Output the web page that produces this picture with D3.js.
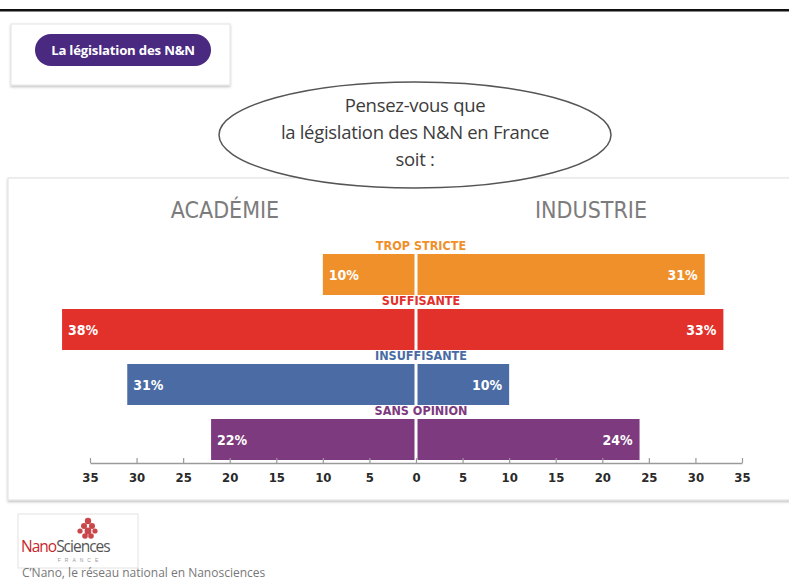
<!DOCTYPE html>
<html><head><meta charset="utf-8">
<script src="https://cdn.jsdelivr.net/npm/d3@7/dist/d3.min.js"></script>
<style>
html,body{margin:0;padding:0;background:#fff;}
svg{display:block;}
</style></head>
<body>
<svg id="chart" width="789" height="581"></svg>
<script>
const categories = ["TROP STRICTE", "SUFFISANTE", "INSUFFISANTE", "SANS OPINION"];
const academie = [10, 38, 31, 22];
const industrie = [31, 33, 10, 24];
const colors = ["#F0902A", "#E2302B", "#4A6BA4", "#7D3A7E"];
const tickValues = [-35,-30,-25,-20,-15,-10,-5,0,5,10,15,20,25,30,35];
const groupHeaders = ["ACADÉMIE", "INDUSTRIE"];
const questionLines = ["Pensez-vous que", "la législation des N&N en France", "soit :"];

const svg = d3.select("#chart");
const cond = "'Liberation Sans Narrow','DejaVu Sans Condensed','Open Sans',sans-serif";
const calib = "'Open Sans','Noto Sans',sans-serif";

const defs = svg.append("defs");
const f = defs.append("filter").attr("id","sh").attr("x","-5%").attr("y","-5%").attr("width","110%").attr("height","115%");
f.append("feDropShadow").attr("dx",0).attr("dy",1.5).attr("stdDeviation",1.2).attr("flood-color","#000").attr("flood-opacity",0.25);

// top rule
svg.append("rect").attr("x",0).attr("y",9).attr("width",789).attr("height",2.5).attr("fill","#111");

// badge box
svg.append("rect").attr("x",11).attr("y",24).attr("width",219).attr("height",61).attr("fill","#fff").attr("stroke","#e4e4e4").attr("filter","url(#sh)");
svg.append("rect").attr("x",35).attr("y",34).attr("width",176).attr("height",32).attr("rx",16).attr("fill","#4A2A80");
svg.append("text").attr("x",123).attr("y",55).attr("text-anchor","middle").attr("fill","#fff")
  .style("font-family",calib).style("font-size","13.2px").style("font-weight","700").style("letter-spacing","-0.2px").text("La législation des N&N");

// chart panel
svg.append("rect").attr("x",8).attr("y",178).attr("width",800).attr("height",322).attr("fill","#fff").attr("stroke","#dedede").attr("filter","url(#sh)");

// ellipse
svg.append("ellipse").attr("cx",415).attr("cy",135).attr("rx",196).attr("ry",53).attr("fill","#fff").attr("stroke","#555").attr("stroke-width",1.5);
svg.append("g").selectAll("text").data(questionLines).join("text")
  .attr("x",415).attr("y",(d,i)=>112+i*27).attr("text-anchor","middle").attr("fill","#3c3c3c")
  .style("font-family",calib).style("font-size","18.5px").style("letter-spacing","-0.3px").text(d=>d);

// headers
svg.append("g").selectAll("text").data(groupHeaders).join("text")
  .attr("x",(d,i)=> i===0 ? 225 : 591).attr("y",218).attr("text-anchor","middle").attr("fill","#7c7c7c")
  .style("font-family",cond).style("font-size","23px").text(d=>d);

// scales
const x = d3.scaleLinear().domain([-35,35]).range([90,742]);
const y = d3.scaleBand().domain(categories).range([240,460]).paddingInner(0).paddingOuter(0);
const labelH = 14;

const rows = categories.map((c,i)=>({cat:c, a:academie[i], n:industrie[i], color:colors[i]}));
const g = svg.append("g");

// left bars
g.selectAll("rect.left").data(rows).join("rect").attr("class","left")
  .attr("x",d=>x(-d.a)).attr("y",d=>y(d.cat)+labelH)
  .attr("width",d=>x(0)-x(-d.a)-1.5).attr("height",y.bandwidth()-labelH)
  .attr("fill",d=>d.color);
// right bars
g.selectAll("rect.right").data(rows).join("rect").attr("class","right")
  .attr("x",x(0)+1.5).attr("y",d=>y(d.cat)+labelH)
  .attr("width",d=>x(d.n)-x(0)-1.5).attr("height",y.bandwidth()-labelH)
  .attr("fill",d=>d.color);

// category labels
g.selectAll("text.cat").data(rows).join("text").attr("class","cat")
  .attr("x",x(0)+5).attr("y",d=>y(d.cat)+10).attr("text-anchor","middle").attr("fill",d=>d.color)
  .style("font-family",cond).style("font-size","12.5px").style("font-weight","700").text(d=>d.cat);

// value labels
g.selectAll("text.lv").data(rows).join("text").attr("class","lv")
  .attr("x",d=>x(-d.a)+6).attr("y",d=>y(d.cat)+labelH+(y.bandwidth()-labelH)/2+5)
  .attr("fill","#fff").style("font-family",cond).style("font-size","14px").style("font-weight","700")
  .text(d=>d.a+"%");
g.selectAll("text.rv").data(rows).join("text").attr("class","rv")
  .attr("x",d=>x(d.n)-7).attr("y",d=>y(d.cat)+labelH+(y.bandwidth()-labelH)/2+5).attr("text-anchor","end")
  .attr("fill","#fff").style("font-family",cond).style("font-size","14px").style("font-weight","700")
  .text(d=>d.n+"%");

// axis
const axis = d3.axisBottom(x).tickValues(tickValues).tickFormat(d=>Math.abs(d)).tickSizeInner(-5).tickSizeOuter(0).tickPadding(10);
const ag = svg.append("g").attr("transform","translate(0,463)").call(axis);
ag.select(".domain").attr("stroke","#9a9a9a").attr("stroke-width",1.5);
ag.selectAll(".tick line").attr("stroke","#9a9a9a").attr("stroke-width",1.2);
ag.selectAll(".tick text").attr("fill","#2a2a2a").style("font-family",cond).style("font-size","13px").style("font-weight","700");

// logo
svg.append("rect").attr("x",18).attr("y",514).attr("width",120).attr("height",54).attr("fill","#fff").attr("stroke","#e2e2e2");
const logo = svg.append("g");
[[88,521,3.2],[84,526,3],[92,526,3],[80,531,2.6],[88,531,3.4],[95,531,2.6],[85,536,2.8],[91,536,2.8]].forEach(p=>{
  logo.append("circle").attr("cx",p[0]).attr("cy",p[1]).attr("r",p[2]).attr("fill","#C0262B").attr("opacity",0.85);
});
const lt = logo.append("text").attr("x",21).attr("y",552).style("font-family","'Open Sans',sans-serif").style("font-size","15.5px").style("letter-spacing","-1px");
lt.append("tspan").attr("fill","#C8262B").text("Nano");
lt.append("tspan").attr("fill","#555").text("Sciences");
logo.append("text").attr("x",80).attr("y",562).attr("text-anchor","middle").attr("fill","#9a9a9a")
  .style("font-family","sans-serif").style("font-size","5px").style("letter-spacing","4px").text("FRANCE");
svg.append("text").attr("x",22).attr("y",576.5).attr("fill","#777").style("font-family",calib).style("font-size","12px")
  .text("C’Nano, le réseau national en Nanosciences");
</script>
</body></html>
